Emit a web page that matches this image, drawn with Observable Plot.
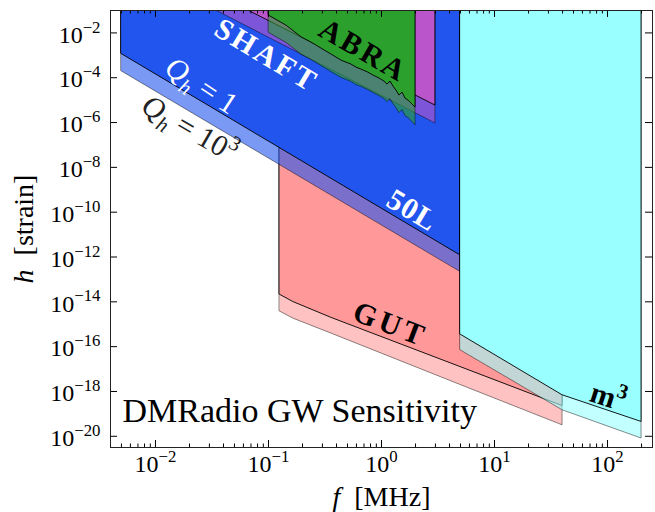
<!DOCTYPE html>
<html><head><meta charset="utf-8">
<script src="https://cdn.jsdelivr.net/npm/d3@7"></script>
<script src="https://cdn.jsdelivr.net/npm/@observablehq/plot@0.6"></script>
<style>
html,body{margin:0;padding:0;background:#fff;}
#chart{width:655px;height:512px;}
svg text{white-space:pre;}
</style></head><body><div id="chart"></div>
<script>
// ---------------- data (f in MHz, h strain) ----------------
const blueF  = [0.005, 5];
const blueQ1 = [1.15e-3, 1.17e-12];
const blueQ3 = [1.95e-4, 2.14e-13];

const gutF  = [0.126, 0.166, 0.362, 5, 40];
const gutQ1 = [2.09e-14, 9.77e-15, 1.91e-15, 1.23e-17, 2.24e-19];
const gutQ3 = [3.72e-15, 1.78e-15, 3.80e-16, 1.95e-18, 3.09e-20];

const m3F  = [5, 40, 200];
const m3Q1 = [3.47e-16, 6.76e-19, 4.37e-20];
const m3Q3 = [6.92e-17, 1.45e-19, 7.94e-21];

const shaftF  = [0.03, 3.0];
const shaftQ1 = [0.757, 5.74e-6];
const shaftQ3 = [0.142, 9.12e-7];

const abraF  = [0.101, 0.1443, 0.1959, 0.2401, 0.2944, 0.3609, 0.4426, 0.5426, 0.6012, 0.6653, 0.7621, 0.8494,
                0.9601, 1.063, 1.130, 1.201, 1.276, 1.357, 1.442, 1.534, 1.629, 1.734, 1.843, 2.0];
const abraQ1 = [5.90e-2, 2.11e-2, 6.37e-3, 3.70e-3, 2.00e-3, 1.08e-3, 5.82e-4, 3.86e-4, 2.84e-4, 2.31e-4, 1.70e-4, 1.25e-4,
                9.18e-5, 6.75e-5, 4.95e-5, 6.75e-5, 4.04e-5, 2.67e-5, 1.60e-5, 2.18e-5, 1.18e-5, 9.59e-6, 7.05e-6, 4.67e-6];
const abraQ3 = [1.00e-2, 3.55e-3, 1.07e-3, 6.17e-4, 3.31e-4, 1.78e-4, 9.77e-5, 6.46e-5, 4.68e-5, 3.89e-5, 2.82e-5, 2.09e-5,
                1.51e-5, 1.12e-5, 8.13e-6, 1.10e-5, 6.61e-6, 4.37e-6, 2.63e-6, 3.63e-6, 1.95e-6, 1.58e-6, 1.17e-6, 7.59e-7];

const labelText = ["SHAFT", "ABRA", "*Q*_{*h*} = 1", "*Q*_{*h*} = 10^{3}", "50L", "GUT", "m^{3}"];
const labelF    = [0.096, 0.693, 0.0255, 0.020, 1.87, 1.2, 101];
const labelH    = [1.0e-3, 1.62e-3, 4.47e-5, 5.37e-7, 1.2e-10, 1.0e-15, 5.6e-19];

const xMajor = [0.01, 0.1, 1, 10, 100];
const xMinor = [0.005, 0.006, 0.007, 0.008, 0.009,
                0.02, 0.03, 0.04, 0.05, 0.06, 0.07, 0.08, 0.09,
                0.2, 0.3, 0.4, 0.5, 0.6, 0.7, 0.8, 0.9,
                2, 3, 4, 5, 6, 7, 8, 9,
                20, 30, 40, 50, 60, 70, 80, 90, 200];
const yMajor = [1e-20, 1e-18, 1e-16, 1e-14, 1e-12, 1e-10, 1e-8, 1e-6, 1e-4, 1e-2];

const titleText = "DMRadio GW Sensitivity";
const xLabel = "*f*\u2002[MHz]";
const yLabel = "*h*\u2002[strain]";

// ---------------- styles ----------------
const C = {blue: "#2255ee", red: "#ff9999", cyan: "#99ffff", shaft: "#bb55cc", abra: "#2ca02c"};
const TOP = 1; // region fills extend above the frame (clipped)
const W = 655, H = 512, mL = 110, mR = 3, mT = 10, mB = 65;
const innerW = W - mL - mR, innerH = H - mT - mB;

const region = (F, lo) => F.map((f, i) => ({f, lo: lo[i], hi: TOP}));
const band = (F, lo, fill) => Plot.areaY(region(F, lo), {x: "f", y1: "lo", y2: "hi", fill, fillOpacity: 0.6,
  stroke: "#000", strokeOpacity: 0.45, strokeWidth: 1, clip: true});
const main = (F, lo, fill) => Plot.areaY(region(F, lo), {x: "f", y1: "lo", y2: "hi", fill,
  stroke: "#000", strokeOpacity: 0.9, strokeWidth: 1, clip: true});

const supFmt = d => `10^{${String(Math.round(Math.log10(d))).replace("-", "\u2212")}}`;

const labelStyle = [
  {fill: "white", fontWeight: "bold", rotate: 31, fontSize: 30},
  {fill: "black", fontWeight: "bold", rotate: 30, fontSize: 30},
  {fill: "white", fontWeight: "normal", rotate: 33, fontSize: 30},
  {fill: "#222", fontWeight: "normal", rotate: 30, fontSize: 30},
  {fill: "white", fontWeight: "bold", rotate: 31, fontSize: 30},
  {fill: "black", fontWeight: "bold", rotate: 21, fontSize: 30},
  {fill: "black", fontWeight: "bold", rotate: 18, fontSize: 30}
];
const spacing = {"SHAFT": 3, "ABRA": 3, "GUT": 4, "50L": 1};

const labelMarks = labelText.map((t, i) => Plot.text([i], {
  x: () => labelF[i], y: () => labelH[i], text: () => t,
  textAnchor: "middle", lineAnchor: "middle", ...labelStyle[i]
}));

const chart = Plot.plot({
  width: W, height: H,
  marginLeft: mL, marginRight: mR, marginTop: mT, marginBottom: mB,
  style: {fontFamily: "'Liberation Serif', 'Times New Roman', serif", background: "white", color: "black"},
  x: {type: "log", domain: [0.004, 250], axis: null},
  y: {type: "log", domain: [Math.pow(10, -20.5), 0.1], axis: null},
  marks: [
    band(gutF, gutQ3, C.red), main(gutF, gutQ1, C.red),
    band(blueF, blueQ3, C.blue), main(blueF, blueQ1, C.blue),
    band(m3F, m3Q3, C.cyan), main(m3F, m3Q1, C.cyan),
    band(shaftF, shaftQ3, C.shaft), main(shaftF, shaftQ1, C.shaft),
    band(abraF, abraQ3, C.abra), main(abraF, abraQ1, C.abra),
    ...labelMarks,
    Plot.text([titleText], {frameAnchor: "bottom-left", textAnchor: "start", dx: 12, dy: -26, fontSize: 34, text: d => d}),
    // ticks (inward, all four sides)
    Plot.tickX(xMajor, {x: d => d, insetTop: innerH - 7, stroke: "#000"}),
    Plot.tickX(xMajor, {x: d => d, insetBottom: innerH - 7, stroke: "#000"}),
    Plot.tickX(xMinor, {x: d => d, insetTop: innerH - 3.5, stroke: "#000"}),
    Plot.tickX(xMinor, {x: d => d, insetBottom: innerH - 3.5, stroke: "#000"}),
    Plot.tickY(yMajor, {y: d => d, insetRight: innerW - 7, stroke: "#000"}),
    Plot.tickY(yMajor, {y: d => d, insetLeft: innerW - 7, stroke: "#000"}),
    Plot.frame({stroke: "#222", strokeWidth: 1}),
    // tick labels
    Plot.text(xMajor, {x: d => d, frameAnchor: "bottom", dy: 17, text: supFmt, fontSize: 24, lineAnchor: "middle"}),
    Plot.text(yMajor, {y: d => d, frameAnchor: "left", dx: -10, dy: 2, textAnchor: "end", text: supFmt, fontSize: 24, lineAnchor: "middle"}),
    // axis labels
    Plot.text([xLabel], {frameAnchor: "bottom", dy: 50, text: d => d, fontSize: 28, textAnchor: "middle", lineAnchor: "middle"}),
    Plot.text([yLabel], {frameAnchor: "left", dx: -86, rotate: -90, text: d => d, fontSize: 28, textAnchor: "middle", lineAnchor: "middle"})
  ]
});
document.getElementById("chart").appendChild(chart);

// ---- rich text: *italic*, ^{sup}, _{sub} ----
function parse(s) {
  const segs = []; let i = 0, italic = false, buf = "";
  const flush = () => { if (buf) segs.push({t: buf, it: italic, mode: "n"}); buf = ""; };
  while (i < s.length) {
    const c = s[i];
    if (c === "*") { flush(); italic = !italic; i++; }
    else if ((c === "^" || c === "_") && s[i + 1] === "{") {
      flush();
      const j = s.indexOf("}", i);
      const inner = s.slice(i + 2, j);
      const mode = c === "^" ? "sup" : "sub";
      let it = italic, b = "";
      for (const ch of inner) {
        if (ch === "*") { if (b) segs.push({t: b, it, mode}); b = ""; it = !it; }
        else b += ch;
      }
      if (b) segs.push({t: b, it, mode});
      i = j + 1;
    } else { buf += c; i++; }
  }
  flush();
  return segs;
}
const ns = "http://www.w3.org/2000/svg";
chart.querySelectorAll("text").forEach(t => {
  const s = t.textContent;
  if (spacing[s] != null) t.setAttribute("letter-spacing", spacing[s]);
  if (!/[\^_*]/.test(s)) return;
  const fs = parseFloat(getComputedStyle(t).fontSize);
  const segs = parse(s);
  while (t.firstChild) t.removeChild(t.firstChild);
  let cur = 0;
  for (const g of segs) {
    const sp = document.createElementNS(ns, "tspan");
    const shift = g.mode === "sup" ? -0.42 * fs : g.mode === "sub" ? 0.25 * fs : 0;
    if (shift !== cur) sp.setAttribute("dy", (shift - cur).toFixed(2));
    cur = shift;
    if (g.mode !== "n") sp.setAttribute("font-size", (0.7 * fs).toFixed(2));
    if (g.it) sp.setAttribute("font-style", "italic");
    sp.textContent = g.t;
    t.appendChild(sp);
  }
});
</script>
</body></html>
